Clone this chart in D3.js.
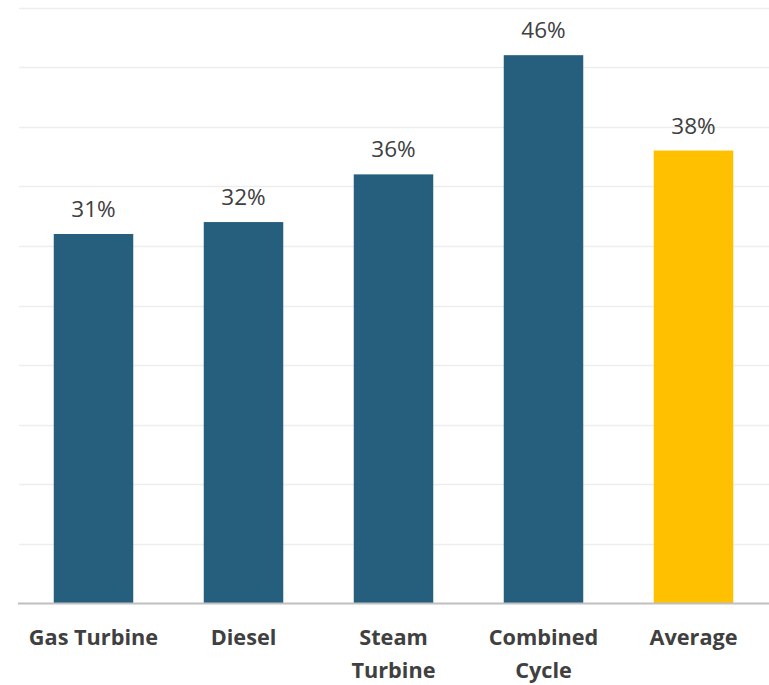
<!DOCTYPE html>
<html><head><meta charset="utf-8">
<script src="https://cdn.jsdelivr.net/npm/d3@7"></script>
<style>body{margin:0;background:#fff}svg{display:block}</style>
</head><body>
<script>
const categories = [["Gas Turbine"],["Diesel"],["Steam","Turbine"],["Combined","Cycle"],["Average"]];
const values = [31, 32, 36, 46, 38];
const colors = ["#265F7E","#265F7E","#265F7E","#265F7E","#FFC000"];
const yTicks = [0,5,10,15,20,25,30,35,40,45,50];

const W = 769, H = 685;
const svg = d3.select("body").append("svg").attr("width", W).attr("height", H);
const x = d3.scaleBand().domain(d3.range(categories.length)).range([18.5, 768.5]).paddingInner(0.47).paddingOuter(0.235);
const y = d3.scaleLinear().domain([0, 50]).range([603.5, 7.5]);

svg.append("g").selectAll("line").data(yTicks.slice(1)).join("line")
  .attr("x1", 19).attr("x2", W).attr("y1", d => Math.round(y(d)) + 0.5).attr("y2", d => Math.round(y(d)) + 0.5)
  .attr("stroke", "#EDEDED").attr("stroke-width", 1.3);

svg.append("g").selectAll("rect").data(values).join("rect")
  .attr("x", (d,i) => x(i)).attr("width", x.bandwidth())
  .attr("y", d => y(d)).attr("height", d => y(0) - y(d))
  .attr("fill", (d,i) => colors[i]);

svg.append("line").attr("x1", 18).attr("x2", W).attr("y1", y(0)).attr("y2", y(0))
  .attr("stroke", "#BFBFBF").attr("stroke-width", 2);

svg.append("g").selectAll("text").data(values).join("text")
  .attr("x", (d,i) => x(i) + x.bandwidth()/2).attr("y", d => y(d) - 17)
  .attr("text-anchor", "middle").attr("font-family", "'Open Sans', sans-serif")
  .attr("font-size", 22.5).attr("fill", "#404040").text(d => d + "%");

const lab = svg.append("g").selectAll("text").data(categories).join("text")
  .attr("text-anchor", "middle").attr("font-family", "'Open Sans', sans-serif")
  .attr("font-weight", "bold").attr("font-size", 21.7).attr("fill", "#404040");
lab.each(function(d,i){
  const t = d3.select(this);
  d.forEach((s,j) => t.append("tspan").attr("x", x(i) + x.bandwidth()/2).attr("y", 645 + j*33).text(s));
});
</script>
</body></html>
